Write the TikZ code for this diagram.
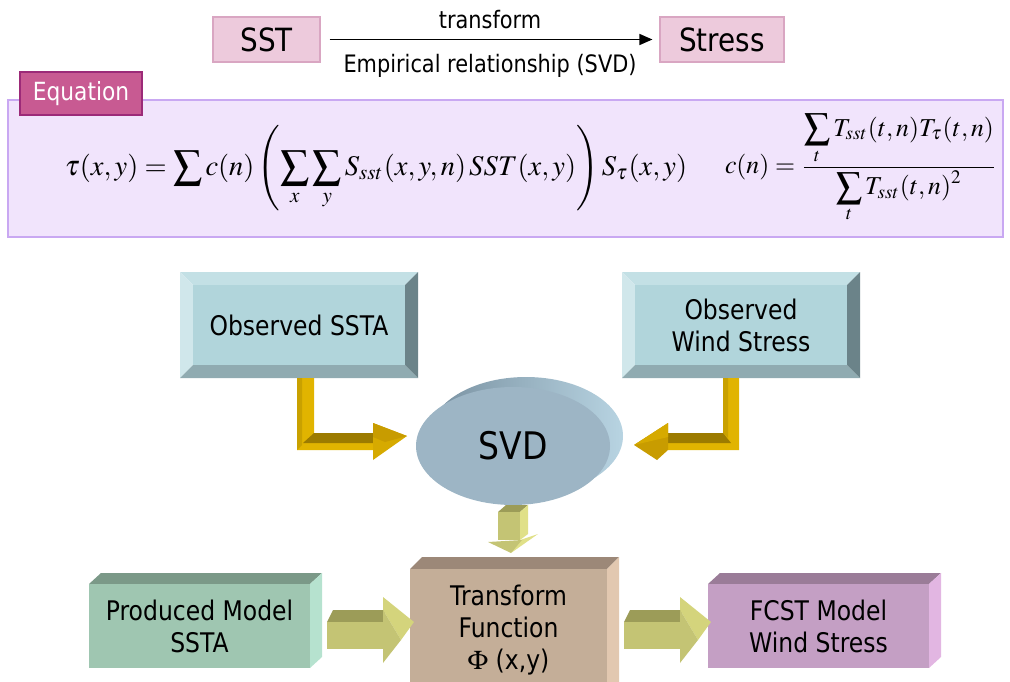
\documentclass[tikz,border=0pt]{standalone}
\usepackage{mathptmx}
\usepackage{graphicx}
\usepackage[no-math]{fontspec}
\setmainfont{DejaVu Sans}[FakeStretch=0.87]
\usetikzlibrary{arrows.meta,shapes.geometric}
\definecolor{pinkfill}{HTML}{EDCADC}
\definecolor{pinkdraw}{HTML}{D9A6C2}
\definecolor{tagfill}{HTML}{C85A92}
\definecolor{tagdraw}{HTML}{9C2A78}
\definecolor{panelfill}{HTML}{F1E4FC}
\definecolor{paneldraw}{HTML}{C9A8F2}
\definecolor{bvface}{HTML}{B1D5DB}
\definecolor{bvtop}{HTML}{C3E0E5}
\definecolor{bvleft}{HTML}{D0E7EB}
\definecolor{bvbot}{HTML}{90ABB1}
\definecolor{bvright}{HTML}{6B8389}
\definecolor{gold}{HTML}{E1B400}
\definecolor{goldstrip}{HTML}{C9A100}
\definecolor{golddark}{HTML}{9C7B00}
\definecolor{goldhead}{HTML}{C89C00}
\definecolor{goldheadlt}{HTML}{D6AA00}
\definecolor{olive}{HTML}{C4C474}
\definecolor{olivedark}{HTML}{9C9C58}
\definecolor{olivelt}{HTML}{D4D47C}
\definecolor{olivert}{HTML}{E0E088}
\definecolor{svdfront}{HTML}{9DB5C5}
\definecolor{svdbackA}{HTML}{7890A0}
\definecolor{svdbackB}{HTML}{B8D4E2}
\definecolor{trfront}{HTML}{C4AE98}
\definecolor{trtop}{HTML}{9C8878}
\definecolor{trright}{HTML}{E2C8B0}
\definecolor{prfront}{HTML}{9FC6B1}
\definecolor{prtop}{HTML}{7B9988}
\definecolor{prright}{HTML}{B6E2CF}
\definecolor{fcfront}{HTML}{C49FC4}
\definecolor{fctop}{HTML}{9A7C98}
\definecolor{fcright}{HTML}{E2B6E2}
\newcommand\bevelbox[4]{%
 \fill[bvtop] (#1,#2)--(#3,#2)--(#3-13,#2+13)--(#1+13,#2+13)--cycle;
 \fill[bvleft] (#1,#2)--(#1+13,#2+13)--(#1+13,#4-13)--(#1,#4)--cycle;
 \fill[bvbot] (#1,#4)--(#1+13,#4-13)--(#3-13,#4-13)--(#3,#4)--cycle;
 \fill[bvright] (#3,#2)--(#3,#4)--(#3-13,#4-13)--(#3-13,#2+13)--cycle;}
\newcommand\greenarrow[1]{%
 \fill[olivedark] (#1,622)--(#1+6,610)--(#1+58,610)--(#1+56,622)--cycle;
 \fill[olive] (#1,622)--(#1+56,622)--(#1+56,649)--(#1,649)--cycle;
 \fill[olivelt] (#1+56,597)--(#1+87,622)--(#1+74,640)--(#1+56,610)--cycle;
 \fill[olive] (#1+56,610)--(#1+74,640)--(#1+56,663)--cycle;}
\tikzset{
 lbl/.style={font=\fontsize{27pt}{32pt}\selectfont, align=center, inner sep=0pt},
 topbox/.style={fill=pinkfill, draw=pinkdraw, line width=1.2pt, inner sep=0pt,
   minimum height=45pt, font=\fontsize{32pt}{36pt}\selectfont},
 toplbl/.style={font=\fontsize{24pt}{28pt}\selectfont, inner sep=0pt},
}
\begin{document}
\begin{tikzpicture}[x=1pt,y=-1pt]
\useasboundingbox (0,0) rectangle (1010,682);
% top row
\node[topbox, minimum width=107pt] (sst) at (266.5,39.5) {SST};
\node[topbox, minimum width=124pt] (stress) at (722,39.5) {Stress};
\draw[line width=1.5pt, -{Triangle[length=13pt,width=11pt]}, shorten <=9pt, shorten >=7pt]
  (sst) -- node[toplbl, above=10pt] (tlab) {transform}
  node[toplbl, below=14pt] (elab) {Empirical relationship (SVD)} (stress);
% equation panel
\filldraw[fill=panelfill, draw=paneldraw, line width=1.2pt] (8,100) rectangle (1003,237);
\node[fill=tagfill, draw=tagdraw, line width=1.2pt, minimum width=122pt, minimum height=43pt, inner sep=0pt,
  text=white, font=\fontsize{25pt}{28pt}\selectfont] (tag) at (81,93.5) {Equation};
\node[inner sep=0pt] (eqa) at (376,168) {\resizebox{622pt}{!}{$\displaystyle \tau(x,y)=\sum c(n)\left(\sum_x\sum_y S_{sst}(x,y,n)\,SST(x,y)\right)S_\tau(x,y)$}};
\node[inner sep=0pt] (eqb) at (861,168) {\resizebox{272pt}{!}{$\displaystyle c(n)=\frac{\displaystyle\sum_t T_{sst}(t,n)T_\tau(t,n)}{\displaystyle\sum_t T_{sst}(t,n)^2}$}};
% observed boxes
\bevelbox{180}{272}{418}{378}
\node[lbl, fill=bvface, minimum width=212pt, minimum height=80pt] (obs) at (299,325) {Observed SSTA};
\bevelbox{622}{272}{860}{378}
\node[lbl, fill=bvface, minimum width=212pt, minimum height=80pt] (obw) at (741,325) {Observed\\Wind Stress};
% SVD ellipse
\shade[left color=svdbackA, right color=svdbackB] (526,436) ellipse [x radius=97, y radius=59];
\node[ellipse, fill=svdfront, minimum width=194pt, minimum height=118pt, inner sep=0pt,
  font=\fontsize{38pt}{44pt}\selectfont] (svd) at (513,446) {SVD};
% left gold arrow
\fill[gold] (297,378)--(314,378)--(314,433)--(380,433)--(380,450)--(297,450)--cycle;
\fill[goldstrip] (297,378)--(302,378)--(302,445)--(297,450)--cycle;
\fill[golddark] (303,443)--(314,433)--(380,433)--(373,443)--cycle;
\fill[goldheadlt] (373,423)--(407,436)--(373,460)--cycle;
\fill[goldhead] (373,423)--(407,436)--(385,442)--(373,437)--cycle;
% right gold arrow
\fill[gold] (723,378)--(739,378)--(739,450)--(668,450)--(668,433)--(723,433)--cycle;
\fill[goldstrip] (723,378)--(728,378)--(728,438)--(723,433)--cycle;
\fill[golddark] (668,433)--(723,433)--(731,443)--(668,443)--cycle;
\fill[goldhead] (668,423)--(634,445)--(657,460)--(668,450)--cycle;
\fill[goldheadlt] (668,423)--(668,437)--(634,445)--cycle;
% down arrow
\fill[olivedark] (498,512)--(506,505)--(528,505)--(520,512)--cycle;
\fill[olive] (498,512)--(520,512)--(520,540)--(498,540)--cycle;
\fill[olivert] (520,512)--(528,505)--(528,534)--(520,540)--cycle;
\fill[olivert] (520,540)--(538,534)--(511,553)--cycle;
\fill[olive] (488,542)--(522,540)--(511,553)--cycle;
% transform box
\fill[trtop] (410,569)--(422,557)--(619,557)--(607,569)--cycle;
\fill[trright] (607,569)--(619,557)--(619,682)--(607,682)--cycle;
\node[fill=trfront, minimum width=197pt, minimum height=113pt, inner sep=0pt] (tr) at (508.5,625.5) {};
\node[lbl] (trl) at ([yshift=-5pt]tr.center) {Transform\\Function\\$\Phi$ (x,y)};
% produced box
\fill[prtop] (89,584)--(101,573)--(322,573)--(310,584)--cycle;
\fill[prright] (310,584)--(322,573)--(322,657)--(310,668)--cycle;
\node[lbl, fill=prfront, minimum width=221pt, minimum height=84pt] (pr) at (199.5,626) {Produced Model\\SSTA};
% fcst box
\fill[fctop] (708,584)--(720,573)--(941,573)--(929,584)--cycle;
\fill[fcright] (929,584)--(941,573)--(941,657)--(929,668)--cycle;
\node[lbl, fill=fcfront, minimum width=221pt, minimum height=84pt] (fc) at (818.5,626) {FCST Model\\Wind Stress};
% green arrows
\greenarrow{327}
\greenarrow{624}
\end{tikzpicture}
\end{document}
